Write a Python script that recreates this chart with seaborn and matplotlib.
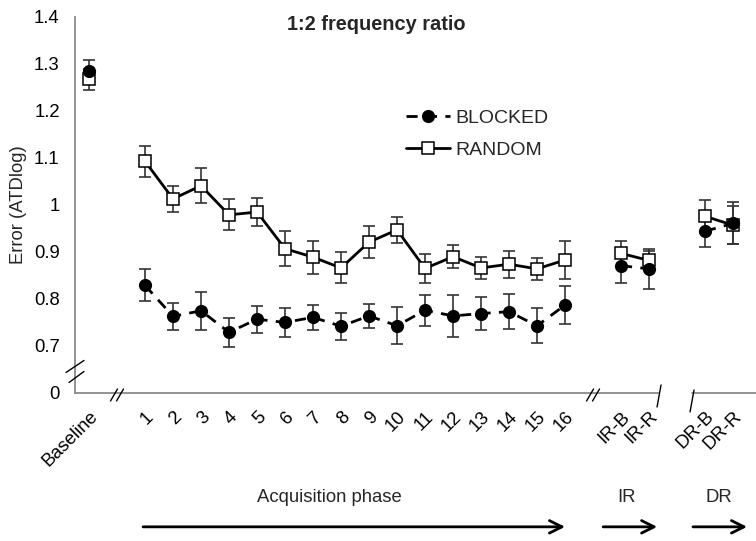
import numpy as np
import pandas as pd
import matplotlib
matplotlib.use("Agg")
import matplotlib.pyplot as plt
from matplotlib.lines import Line2D
import seaborn as sns

# --- data ---
labels = ['Baseline', '1', '2', '3', '4', '5', '6', '7', '8', '9', '10',
          '11', '12', '13', '14', '15', '16', 'IR-B', 'IR-R', 'DR-B', 'DR-R']
segments = ['base'] + ['acq'] * 16 + ['ir', 'ir', 'dr', 'dr']

blocked = [1.285, 0.829, 0.763, 0.775, 0.729, 0.757, 0.750, 0.761, 0.742, 0.764, 0.743,
           0.776, 0.764, 0.769, 0.773, 0.743, 0.787, 0.871, 0.864, 0.944, 0.961]
blocked_err = [0.024, 0.034, 0.028, 0.040, 0.031, 0.029, 0.031, 0.026, 0.029, 0.025, 0.039,
               0.033, 0.044, 0.035, 0.037, 0.037, 0.040, 0.037, 0.042, 0.034, 0.045]
random_ = [1.267, 1.093, 1.013, 1.041, 0.979, 0.985, 0.907, 0.889, 0.866, 0.921, 0.947,
           0.865, 0.890, 0.866, 0.874, 0.864, 0.883, 0.897, 0.882, 0.976, 0.957]
random_err = [0.022, 0.033, 0.027, 0.037, 0.033, 0.030, 0.037, 0.035, 0.033, 0.034, 0.027,
              0.030, 0.025, 0.024, 0.029, 0.024, 0.041, 0.026, 0.021, 0.035, 0.040]

# slot on the x axis: one empty slot between phases
pos = []
p = 0
for i, s in enumerate(segments):
    if i > 0 and s != segments[i - 1]:
        p += 1
    pos.append(p)
    p += 1

df = pd.DataFrame({
    'pos': pos * 2,
    'value': blocked + random_,
    'err': blocked_err + random_err,
    'seg': segments * 2,
    'cond': ['BLOCKED'] * len(labels) + ['RANDOM'] * len(labels),
})

sns.set_style('white')
plt.rcParams['font.family'] = ['Liberation Sans', 'DejaVu Sans']

fig = plt.figure(figsize=(7.56, 5.41), dpi=100)
ax = fig.add_axes([0.0992, 0.2736, 0.9008, 0.6950])

xmin, xmax = -0.5, 23.82
ymin, ymax = 0.6, 1.4
ax.set_xlim(xmin, xmax)
ax.set_ylim(ymin, ymax)

rnd = df[df.cond == 'RANDOM']
blk = df[df.cond == 'BLOCKED']

ax.errorbar(rnd.pos, rnd.value, yerr=rnd.err, fmt='none', ecolor='#333333',
            elinewidth=1.2, capsize=4.5, capthick=1.2, zorder=2)
ax.errorbar(blk.pos, blk.value, yerr=blk.err, fmt='none', ecolor='#333333',
            elinewidth=1.2, capsize=4.5, capthick=1.2, zorder=2)

sns.lineplot(data=rnd, x='pos', y='value', units='seg', estimator=None, sort=False,
             color='black', marker='s', markersize=9, markerfacecolor='white',
             markeredgecolor='black', markeredgewidth=1.1, linewidth=2, ax=ax,
             zorder=3, legend=False)
sns.lineplot(data=blk, x='pos', y='value', units='seg', estimator=None, sort=False,
             color='black', marker='o', markersize=9.5, markeredgewidth=0,
             linewidth=2, linestyle=(0, (4, 3)), ax=ax, zorder=4, legend=False)

# axes styling
ax.set_xticks(pos)
ax.set_xticklabels(labels, rotation=45, ha='right', va='top', rotation_mode='anchor')
ax.set_yticks(np.arange(0.6, 1.41, 0.1))
ax.set_yticklabels(['0', '0.7', '0.8', '0.9', '1', '1.1', '1.2', '1.3', '1.4'])
ax.tick_params(axis='both', length=0, labelsize=13.3, colors='black')
ax.tick_params(axis='y', pad=11)
ax.tick_params(axis='x', pad=11)
ax.set_xlabel('')
ax.set_ylabel('Error (ATDlog)', fontsize=13.3, labelpad=5)

for side in ['top', 'right', 'bottom']:
    ax.spines[side].set_visible(False)
ax.spines['left'].set_color('#8a8a8a')
ax.spines['left'].set_linewidth(1.3)

# bottom axis drawn in two pieces (break between IR and DR)
px_x = 681 / (xmax - xmin)
px_y = 376 / (ymax - ymin)
gap_l = pos[18] + 10 / px_x
gap_r = pos[19] - 13 / px_x
ax.plot([xmin, gap_l], [ymin, ymin], color='#8a8a8a', lw=1.3, clip_on=False, zorder=1)
ax.plot([gap_r, xmax], [ymin, ymin], color='#8a8a8a', lw=1.3, clip_on=False, zorder=1)


def slash(x0, y0, w, h):
    ax.plot([x0 - w / 2 / px_x, x0 + w / 2 / px_x], [y0 - h / 2 / px_y, y0 + h / 2 / px_y],
            color='black', lw=1.0, clip_on=False, zorder=5)


for xb in [1.0, 18.0]:
    slash(xb - 3 / px_x, ymin - 2 / px_y, 7, 12)
    slash(xb + 3 / px_x, ymin - 2 / px_y, 7, 12)
slash(gap_l, ymin - 3 / px_y, 4, 22)
slash(gap_r, ymin - 8 / px_y, 4, 22)
# y axis break
ybreak = 0.65 - 2 / px_y
ax.plot([xmin - 9 / px_x, xmin + 9 / px_x], [ybreak - 1 / px_y, ybreak + 11 / px_y],
        color='black', lw=1.0, clip_on=False, zorder=5)
ax.plot([xmin - 6 / px_x, xmin + 9 / px_x], [ybreak - 11 / px_y, ybreak + 0 / px_y],
        color='black', lw=1.0, clip_on=False, zorder=5)

ax.text(0.442, 0.981, '1:2 frequency ratio', transform=ax.transAxes, ha='center',
        va='center', fontsize=14.4, fontweight='bold')

handles = [
    Line2D([], [], color='black', marker='o', markersize=9.5, markeredgewidth=0,
           linewidth=2, linestyle=(0, (4, 3)), label='BLOCKED'),
    Line2D([], [], color='black', marker='s', markersize=9, markerfacecolor='white',
           markeredgewidth=1.1, linewidth=2, label='RANDOM'),
]
ax.legend(handles=handles, loc='upper left', bbox_to_anchor=(0.46, 0.80), frameon=False,
          fontsize=14, handlelength=2.3, handletextpad=0.25, labelspacing=0.7)

# phase arrows under the axis
tr = ax.get_xaxis_transform()
arrow = dict(arrowstyle='->,head_length=0.9,head_width=0.45', lw=2, color='black',
             shrinkA=0, shrinkB=0)
phases = [('Acquisition phase', 1.93, 17.0, 8.6),
          ('IR', 18.36, 20.29, 19.18),
          ('DR', 21.57, 23.5, 22.5)]
for name, a, b, c in phases:
    ax.annotate('', xy=(b, -0.356), xytext=(a, -0.356), xycoords=tr, textcoords=tr,
                arrowprops=arrow, annotation_clip=False)
    ax.text(c, -0.277, name, transform=tr, ha='center', va='center', fontsize=13.3)

fig.savefig('out.png', dpi=100)
